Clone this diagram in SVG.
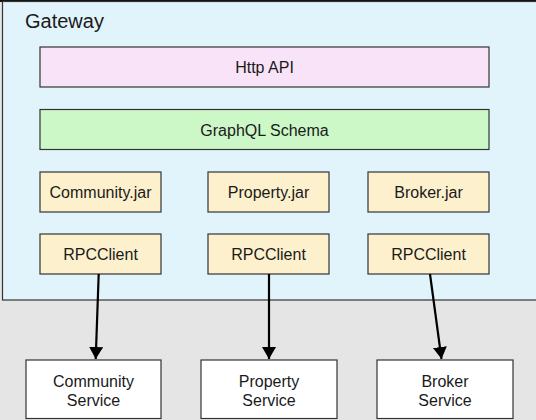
<svg xmlns="http://www.w3.org/2000/svg" width="536" height="420" viewBox="0 0 536 420">
<defs>
<style>
text{font-family:"Helvetica Neue","Liberation Sans",Arial,sans-serif;fill:#1a1a1a;text-anchor:middle}
.box{stroke:#333;stroke-width:1.2}
.jar{fill:#fdf1cd}
.svc{fill:#ffffff}
.lbl{font-size:16px}
.edge{stroke:#000;stroke-width:2.2;fill:none}
</style>
<marker id="ah" viewBox="0 0 12 14" refX="12" refY="7" markerWidth="12" markerHeight="14" markerUnits="userSpaceOnUse" orient="auto">
<path d="M0,0 L12,7 L0,14 z" fill="#000"/>
</marker>
</defs>
<rect x="0" y="0" width="536" height="420" fill="#e5e5e5"/>
<rect x="0" y="0" width="536" height="2" fill="#111"/>
<g id="gateway">
<rect x="2.5" y="1.5" width="540" height="298.5" fill="#e2f4fb" stroke="#333" stroke-width="1.2"/>
<text x="25" y="27.5" font-size="20" style="text-anchor:start">Gateway</text>
</g>
<g id="http-api">
<rect class="box" x="40" y="47" width="449" height="40" fill="#f9e3f8"/>
<text class="lbl" x="264.5" y="73">Http API</text>
</g>
<g id="graphql-schema">
<rect class="box" x="40" y="109.5" width="449" height="40" fill="#ccf7c6"/>
<text class="lbl" x="264.5" y="135.5">GraphQL Schema</text>
</g>
<g id="community-jar">
<rect class="box jar" x="40" y="172" width="121" height="40"/>
<text class="lbl" x="100.5" y="198">Community.jar</text>
</g>
<g id="property-jar">
<rect class="box jar" x="208" y="172" width="121" height="40"/>
<text class="lbl" x="268.5" y="198">Property.jar</text>
</g>
<g id="broker-jar">
<rect class="box jar" x="368" y="172" width="121" height="40"/>
<text class="lbl" x="428.5" y="198">Broker.jar</text>
</g>
<g id="rpc-1">
<rect class="box jar" x="40" y="234" width="121" height="40"/>
<text class="lbl" x="100.5" y="260">RPCClient</text>
</g>
<g id="rpc-2">
<rect class="box jar" x="208" y="234" width="121" height="40"/>
<text class="lbl" x="268.5" y="260">RPCClient</text>
</g>
<g id="rpc-3">
<rect class="box jar" x="368" y="234" width="121" height="40"/>
<text class="lbl" x="428.5" y="260">RPCClient</text>
</g>
<g id="connectors">
<line class="edge" x1="98.7" y1="274" x2="95.7" y2="359" marker-end="url(#ah)"/>
<line class="edge" x1="269" y1="274" x2="269" y2="359" marker-end="url(#ah)"/>
<line class="edge" x1="430" y1="274" x2="441.5" y2="359" marker-end="url(#ah)"/>
</g>
<g id="community-service">
<rect class="box svc" x="26" y="360" width="135" height="58.5"/>
<text class="lbl" x="93.5" y="386.5">Community</text>
<text class="lbl" x="93.5" y="406">Service</text>
</g>
<g id="property-service">
<rect class="box svc" x="201" y="360" width="136" height="58.5"/>
<text class="lbl" x="269" y="386.5">Property</text>
<text class="lbl" x="269" y="406">Service</text>
</g>
<g id="broker-service">
<rect class="box svc" x="377" y="360" width="136" height="58.5"/>
<text class="lbl" x="445" y="386.5">Broker</text>
<text class="lbl" x="445" y="406">Service</text>
</g>
</svg>
